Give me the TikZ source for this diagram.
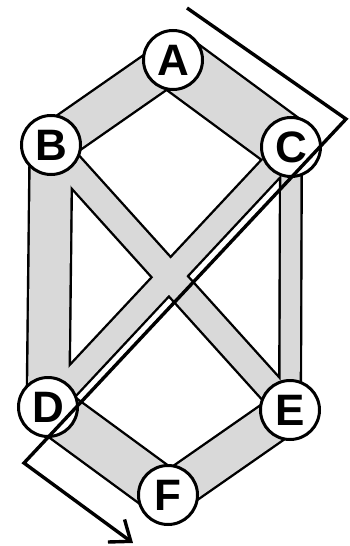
\documentclass[tikz,border=0pt]{standalone}
\usepackage{fontspec}
\setmainfont{Liberation Sans}
\usetikzlibrary{arrows.meta,backgrounds}
\tikzset{
  vtx/.style={circle, draw, line width=1.5pt, fill=white, inner sep=0pt, minimum size=29.5pt,
    font=\fontsize{22}{22}\selectfont\bfseries},
  bandout/.style={line width=#1pt, draw=black},
  bandin/.style={line width=#1pt, draw=gray!30},
  route/.style={line width=1.7pt, line join=miter, -{Straight Barb[length=9pt,width=14pt]}}
}
\begin{document}
\begin{tikzpicture}[x=0.5pt,y=-0.5pt]
  \useasboundingbox (0,0) rectangle (349,546);
  \node[vtx] (A) at (173,60) {A};
  \node[vtx] (B) at (51,145) {B};
  \node[vtx] (C) at (291,147) {C};
  \node[vtx] (D) at (48,407) {D};
  \node[vtx] (E) at (290,410) {E};
  \node[vtx] (F) at (168,495) {F};
  % bands behind the nodes, widths in pt
  \begin{scope}[on background layer]
    \foreach \u/\v/\w in {A/B/22,A/C/29,B/D/22.5,C/E/12,D/F/25,E/F/22,B/E/15,C/D/14}
      \draw[bandout=\w] (\u.center) -- (\v.center);
    \foreach \u/\v/\w [evaluate=\w as \wi using \w-2.4] in {A/B/22,A/C/29,B/D/22.5,C/E/12,D/F/25,E/F/22,B/E/15,C/D/14}
      \draw[bandin=\wi] (\u.center) -- (\v.center);
  \end{scope}
  \coordinate (r1) at (187,8);
  \coordinate (r2) at (346,119);
  \coordinate (r3) at (24,463);
  \coordinate (r4) at (133,543);
  \draw[route] (r1) -- (r2) -- (r3) -- (r4);
\end{tikzpicture}
\end{document}
